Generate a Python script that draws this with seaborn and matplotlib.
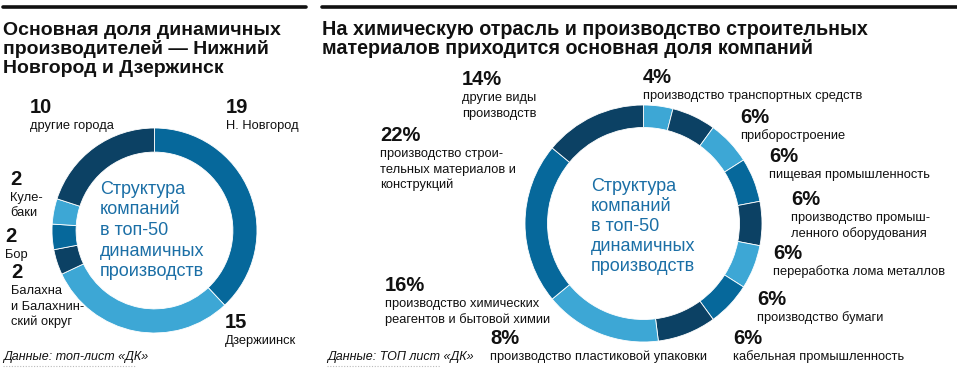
import matplotlib
matplotlib.use("Agg")
import matplotlib.pyplot as plt
import seaborn as sns

# ---- data ----
left_names = ["Н. Новгород", "Дзержиинск", "Балахна\nи Балахнин-\nский округ", "Бор", "Куле-\nбаки", "другие города"]
left_values = [19, 15, 2, 2, 2, 10]

right_names = ["производство транспортных средств", "приборостроение", "пищевая промышленность",
               "производство промыш-\nленного оборудования", "переработка лома металлов",
               "производство бумаги", "кабельная промышленность",
               "производство пластиковой упаковки",
               "производство химических\nреагентов и бытовой химии",
               "производство строи-\nтельных материалов и\nконструкций",
               "другие виды\nпроизводств"]
right_values = [4, 6, 6, 6, 6, 6, 6, 8, 16, 22, 14]

left_title = "Основная доля динамичных\nпроизводителей — Нижний\nНовгород и Дзержинск"
right_title = "На химическую отрасль и производство строительных\nматериалов приходится основная доля компаний"
center_text = "Структура\nкомпаний\nв топ-50\nдинамичных\nпроизводств"
left_source = "Данные: топ-лист «ДК»"
right_source = "Данные: ТОП лист «ДК»"

# ---- style ----
sns.set_theme(style="white")
SANS = ["Liberation Sans", "DejaVu Sans"]
plt.rcParams["font.family"] = SANS

DARK = "#0c4164"
MID = "#06689b"
LIGHT = "#3da7d5"
BLUE_TXT = "#1b6fa6"
left_colors = [MID, LIGHT, DARK, MID, LIGHT, DARK]
right_colors = [LIGHT, DARK, LIGHT, MID, DARK, LIGHT, MID, DARK, LIGHT, MID, DARK]

W, H = 957, 368
fig = plt.figure(figsize=(W / 100, H / 100), dpi=100)
fig.patch.set_facecolor("white")


def fx(x):
    return x / W


def fy(y):
    return 1 - y / H


def donut(cx, cy, r, values, colors, width):
    ax = fig.add_axes([fx(cx - r), fy(cy + r), 2 * r / W, 2 * r / H])
    ax.pie(values, colors=colors, startangle=90, counterclock=False, radius=1,
           wedgeprops=dict(width=width, edgecolor="white", linewidth=0.6))
    ax.set_xlim(-1, 1)
    ax.set_ylim(-1, 1)
    ax.set_aspect("auto")
    ax.axis("off")
    return ax


donut(154.5, 230.5, 102.5, left_values, left_colors, 0.235)
donut(643.5, 223.5, 118.5, right_values, right_colors, 0.19)

# top rules
fig.add_artist(plt.Line2D([fx(3), fx(306)], [fy(6.5), fy(6.5)], color="#111111", lw=2.6))
fig.add_artist(plt.Line2D([fx(322), fx(957)], [fy(6.5), fy(6.5)], color="#111111", lw=2.6))


def lines(x, y0, text, step, **kw):
    for i, t in enumerate(text.split("\n")):
        fig.text(fx(x), fy(y0 + i * step), t, va="baseline", ha="left", **kw)


# titles
lines(3, 35, left_title, 19, fontsize=14, fontweight="bold", color="#111111")
lines(322, 35, right_title, 19, fontsize=14.2, fontweight="bold", color="#111111")

# centre texts
lines(100, 194, center_text, 20.5, fontsize=13, color=BLUE_TXT)
lines(591, 191, center_text, 20, fontsize=13, color=BLUE_TXT)


# labels
def label(x, yb, value, name, step=15.5, pct=False):
    fig.text(fx(x), fy(yb), f"{value}%" if pct else f"{value}", va="baseline", ha="left",
             fontsize=14.5, fontweight="bold", color="#111111")
    lines(x, yb + 16, name, step, fontsize=9.3, color="#111111")


left_pos = [(226, 113), (225, 328), (11, 278), (5, 242), (10, 185), (30, 113)]
for (x, y), v, n in zip(left_pos, left_values, left_names):
    label(x, y, v, n)

right_pos = [(643, 83), (740, 123), (769, 162), (791, 205), (773, 259), (757, 305),
             (733, 344), (490, 344), (385, 291), (380, 141), (462, 85)]
for (x, y), v, n in zip(right_pos, right_values, right_names):
    label(x, y, v, n, pct=True)

# sources
fig.text(fx(3), fy(360), left_source, fontsize=9, style="italic", color="#111111", va="baseline")
fig.text(fx(327), fy(360), right_source, fontsize=9, style="italic", color="#111111", va="baseline")
fig.add_artist(plt.Line2D([fx(3), fx(135)], [fy(365.5), fy(365.5)], color="#bbbbbb", lw=0.8, ls=(0, (1, 1.5))))
fig.add_artist(plt.Line2D([fx(327), fx(440)], [fy(365.5), fy(365.5)], color="#bbbbbb", lw=0.8, ls=(0, (1, 1.5))))

fig.savefig("out.png", dpi=100, facecolor="white")
